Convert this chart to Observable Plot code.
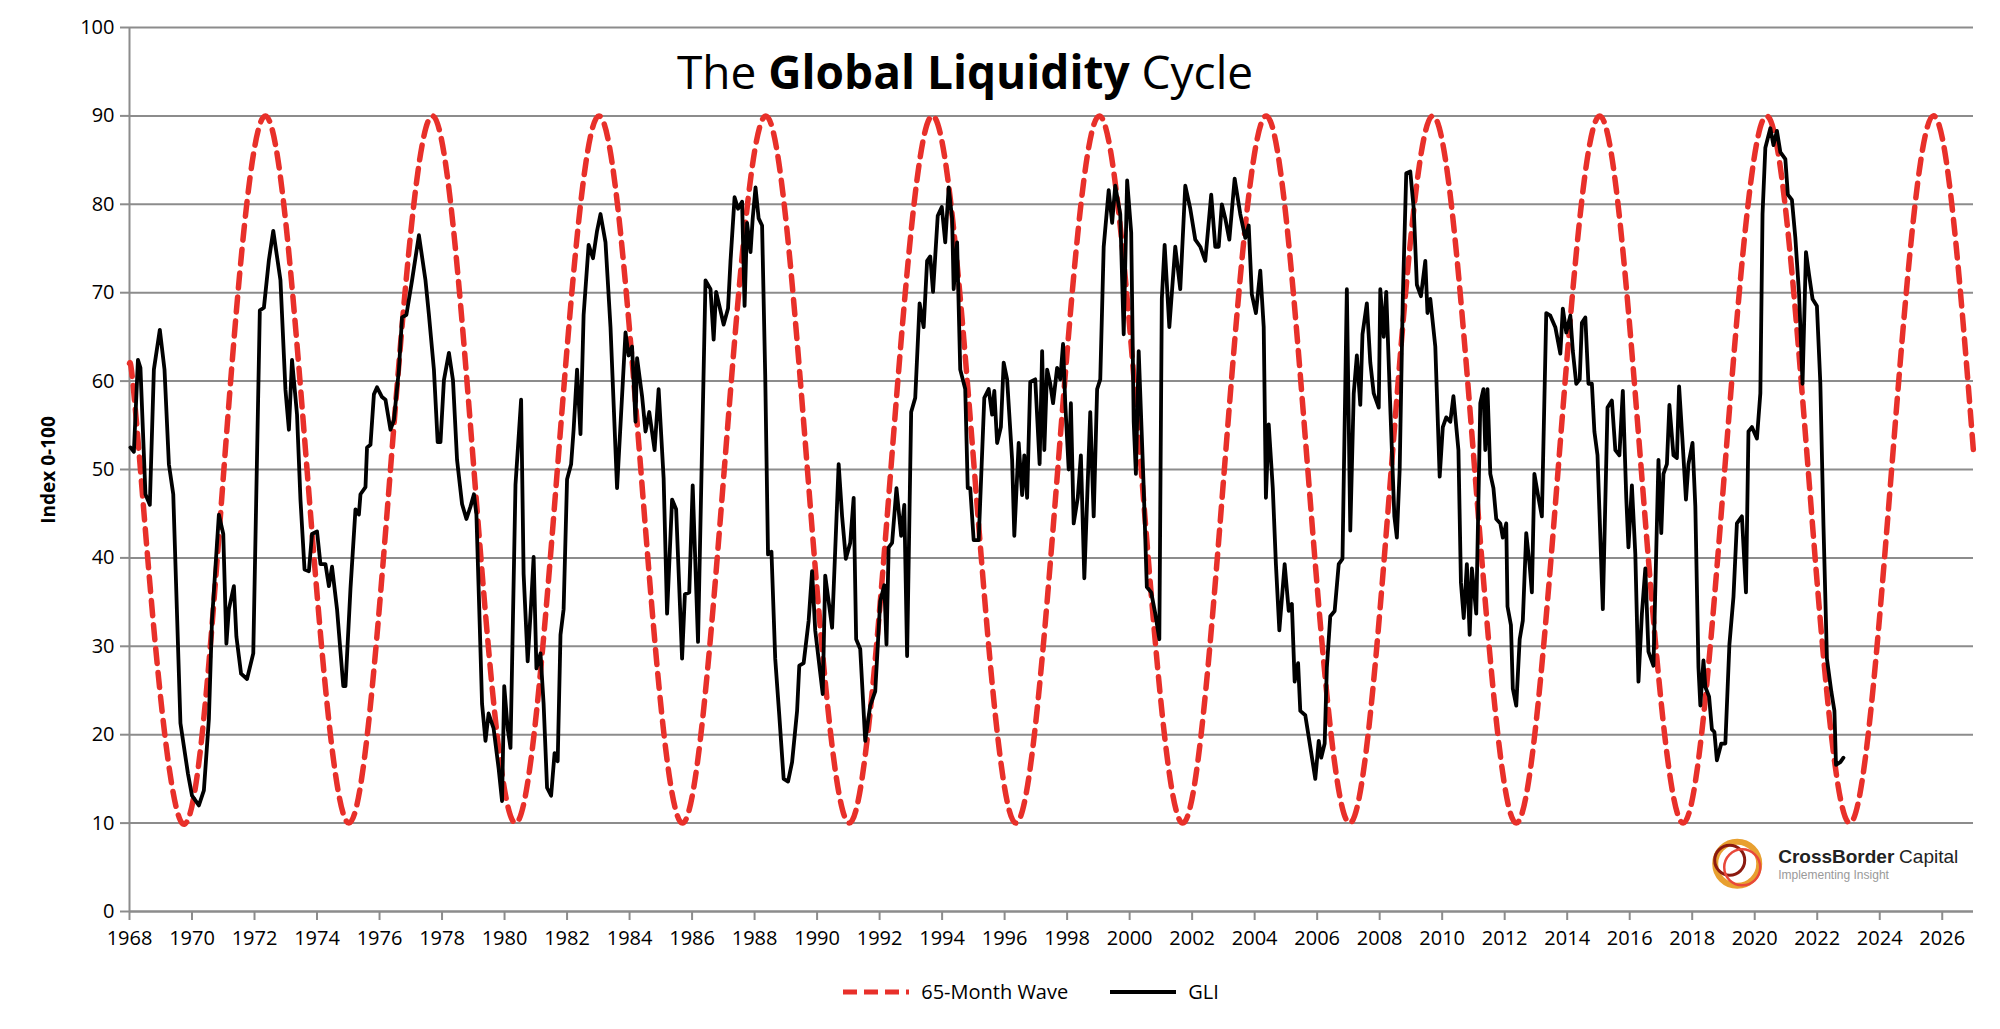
<!DOCTYPE html>
<html><head><meta charset="utf-8">
<script src="https://cdn.jsdelivr.net/npm/d3@7"></script>
<script src="https://cdn.jsdelivr.net/npm/@observablehq/plot@0.6"></script>
<style>
body{margin:0;background:#fff;font-family:"Open Sans",sans-serif;}
#wrap{position:relative;width:2000px;}
#title{position:absolute;left:0;width:1930px;text-align:center;top:40px;font-size:46px;color:#000;}
#ylab{position:absolute;left:48px;top:470px;transform:translate(-50%,-50%) rotate(-90deg);font-size:19px;font-weight:bold;}
#legend{display:flex;justify-content:center;gap:40px;align-items:center;font-size:20px;margin-top:18px;padding-left:60px;}
#legend span{display:flex;align-items:center;gap:10px;}
</style></head><body>
<div id="wrap">
<div id="chart"></div>
<div id="title">The <b>Global Liquidity</b> Cycle</div>
<div id="ylab">Index 0-100</div>
<div id="legend">
<span><svg width="70" height="12"><line x1="2" y1="6" x2="68" y2="6" stroke="#e8302a" stroke-width="5" stroke-dasharray="14,7"/></svg>65-Month Wave</span>
<span><svg width="70" height="12"><line x1="2" y1="6" x2="68" y2="6" stroke="#000" stroke-width="4"/></svg>GLI</span>
</div>
</div>
<script>
const xTicks = d3.range(1968, 2027, 2);
const yTicks = [0,10,20,30,40,50,60,70,80,90,100];

const waveYears = [1968.00,1968.35,1969.68,1971.02,1972.35,1973.68,1975.02,1976.35,1977.69,1979.02,1980.35,1981.69,1983.02,1984.36,1985.69,1987.03,1988.36,1989.69,1991.03,1992.36,1993.69,1995.03,1996.36,1997.70,1999.03,2000.37,2001.70,2003.03,2004.37,2005.70,2007.04,2008.37,2009.70,2011.04,2012.37,2013.71,2015.04,2016.37,2017.71,2019.04,2020.38,2021.71,2023.04,2024.38,2025.71,2027.00];
const waveValues = [62,50,10,50,90,50,10,50,90,50,10,50,90,50,10,50,90,50,10,50,90,50,10,50,90,50,10,50,90,50,10,50,90,50,10,50,90,50,10,50,90,50,10,50,90,52];

const gliYears = [1968.03,1968.14,1968.27,1968.35,1968.51,1968.65,1968.78,1968.97,1969.12,1969.26,1969.40,1969.63,1969.87,1970.00,1970.22,1970.38,1970.54,1970.64,1970.86,1971.00,1971.10,1971.18,1971.34,1971.42,1971.57,1971.76,1971.96,1972.17,1972.30,1972.46,1972.60,1972.83,1972.99,1973.10,1973.20,1973.36,1973.47,1973.60,1973.74,1973.84,1974.00,1974.11,1974.27,1974.38,1974.48,1974.64,1974.84,1974.91,1975.07,1975.23,1975.34,1975.39,1975.55,1975.60,1975.71,1975.82,1975.92,1976.08,1976.19,1976.35,1976.46,1976.62,1976.72,1976.86,1977.04,1977.26,1977.47,1977.58,1977.74,1977.86,1977.95,1978.06,1978.22,1978.35,1978.48,1978.64,1978.78,1978.91,1979.02,1979.10,1979.21,1979.28,1979.39,1979.49,1979.65,1979.81,1979.92,1979.99,1980.10,1980.19,1980.35,1980.53,1980.61,1980.74,1980.85,1980.93,1981.02,1981.15,1981.25,1981.36,1981.49,1981.60,1981.70,1981.79,1981.89,1982.00,1982.13,1982.21,1982.32,1982.43,1982.53,1982.69,1982.83,1982.96,
1983.07,1983.23,1983.39,1983.60,1983.87,1983.97,1984.08,1984.19,1984.24,1984.40,1984.51,1984.63,1984.80,1984.93,1985.09,1985.20,1985.36,1985.49,1985.68,1985.77,1985.91,1986.02,1986.19,1986.43,1986.59,1986.69,1986.77,1987.01,1987.15,1987.23,1987.36,1987.47,1987.60,1987.68,1987.76,1987.87,1987.94,1988.03,1988.13,1988.24,1988.34,1988.43,1988.54,1988.66,1988.79,1988.93,1989.07,1989.20,1989.36,1989.43,1989.57,1989.73,1989.84,1989.94,1990.18,1990.26,1990.48,1990.58,1990.69,1990.80,1990.92,1991.06,1991.17,1991.25,1991.38,
1991.54,1991.70,1991.86,1992.02,1992.15,1992.22,1992.29,1992.40,1992.54,1992.69,1992.79,1992.88,1993.01,1993.14,1993.28,1993.41,1993.52,1993.62,1993.71,1993.86,1993.99,1994.10,1994.21,1994.32,1994.37,1994.48,1994.58,1994.74,1994.82,1994.90,1995.01,1995.17,1995.35,1995.49,1995.60,1995.67,1995.76,1995.88,1995.97,1996.08,1996.24,1996.31,1996.45,1996.56,1996.63,1996.72,1996.82,1996.98,1997.12,1997.20,1997.27,1997.36,1997.46,1997.55,1997.68,1997.78,1997.87,1997.94,1998.05,1998.12,1998.21,1998.34,1998.44,1998.55,1998.74,1998.85,1998.96,1999.06,1999.17,1999.33,1999.44,1999.54,1999.70,1999.81,1999.92,
2000.05,2000.13,2000.20,2000.29,2000.45,2000.55,2000.69,2000.82,2000.95,2001.03,2001.12,2001.27,2001.46,2001.62,2001.78,2001.94,2002.10,2002.26,2002.42,2002.61,2002.74,2002.85,2002.95,2003.06,2003.19,2003.36,2003.54,2003.70,2003.81,2003.91,2004.04,2004.18,2004.29,2004.36,2004.45,2004.58,2004.68,2004.79,2004.96,2005.09,2005.19,2005.28,2005.39,2005.46,2005.62,2005.75,2005.94,2006.05,2006.13,2006.24,2006.31,2006.42,2006.56,2006.69,2006.81,2006.95,2007.06,2007.17,2007.27,2007.38,2007.45,2007.59,2007.70,2007.81,2007.97,2008.02,2008.13,2008.21,2008.34,
2008.47,2008.55,2008.64,2008.74,2008.85,2008.98,2009.09,2009.19,2009.32,2009.46,2009.53,2009.62,2009.78,2009.92,2010.02,2010.13,2010.26,2010.36,2010.52,2010.60,2010.69,2010.79,2010.88,2010.95,2011.09,2011.22,2011.32,2011.38,2011.45,2011.54,2011.64,2011.73,2011.86,2011.94,2012.05,2012.09,2012.20,2012.26,2012.37,2012.48,2012.58,2012.69,2012.80,2012.87,2012.95,2013.08,2013.19,2013.33,2013.46,2013.62,2013.78,2013.86,2013.97,2014.10,2014.18,2014.29,2014.40,2014.47,2014.58,2014.68,2014.79,2014.87,2014.97,2015.14,2015.29,2015.43,2015.54,2015.67,2015.78,2015.89,2015.96,2016.07,2016.18,2016.28,2016.39,2016.50,2016.60,2016.76,
2016.92,2017.01,2017.08,2017.19,2017.27,2017.40,2017.51,2017.58,2017.69,2017.80,2017.88,2018.01,2018.10,2018.20,2018.26,2018.36,2018.42,2018.54,2018.63,2018.71,2018.79,2018.93,2019.06,2019.19,2019.32,2019.43,2019.59,2019.72,2019.80,2019.91,2020.07,2020.18,2020.25,2020.34,2020.50,2020.60,2020.71,2020.82,2020.98,2021.06,2021.19,2021.30,2021.42,2021.53,2021.64,2021.74,2021.85,2021.99,2022.10,2022.20,2022.31,2022.45,2022.55,2022.60,2022.74,2022.84];
const gliValues = [52.5,52,62.4,61.5,47.2,46,61.3,65.8,61.3,50.6,47.2,21.3,15.6,13.1,12,13.7,21.8,33,44.9,42.7,30.3,34.2,36.8,31.1,26.9,26.3,29.2,68,68.3,73.7,77,71.4,59,54.5,62.4,56.2,46.6,38.7,38.5,42.7,43,39.3,39.3,36.8,39,34.2,25.5,25.5,36.5,45.5,44.9,47.2,48,52.5,52.8,58.5,59.3,58.2,57.9,54.5,55.6,61.3,67.2,67.5,71.4,76.5,71.4,67.5,61.3,53.1,53.1,60.1,63.2,60.1,51.1,46.1,44.4,45.8,47.2,44.9,31.9,23.5,19.3,22.4,20.7,16.2,12.5,25.5,20.7,18.5,48.3,57.9,38.2,28.3,34.8,40.1,27.5,29.2,23.5,14,13.1,17.9,17,31.3,34.2,48.9,50.6,54.5,61.3,54,67.5,75.4,73.9,77,
78.9,75.7,66.1,47.9,65.5,62.9,63.9,55.4,62.6,58.3,54.3,56.5,52.2,59.1,49,33.7,46.6,45.5,28.6,35.9,36.1,48.2,30.5,71.4,70.4,64.7,70.1,66.4,68.2,73.6,80.8,79.5,80.3,68.5,77.9,74.6,78.4,81.9,78.4,77.6,60.7,40.4,40.7,28.6,22.2,15,14.7,16.9,22.7,27.8,28.1,32.9,38.5,31.8,24.6,38,32.1,40.9,50.6,44.7,39.9,41.7,46.8,30.8,29.7,
19.3,23.3,24.9,35.1,36.9,30.2,41.2,41.7,47.9,42.5,46,28.9,56.5,58.1,68.8,66.1,73.6,74.1,70.1,78.7,79.7,75.7,81.9,78.4,70.4,75.7,61.3,59.1,47.9,47.9,42,42,58.1,59.1,56.2,58.9,53,54.8,62.1,60.2,51.1,42.5,53,47.1,51.6,46.8,59.9,60.2,50.6,63.4,52.2,61.3,59.7,57.5,61.5,60.2,64.2,57.5,50,57.5,43.9,46.8,51.6,37.7,56.5,44.7,59.1,60.2,75.2,81.6,77.9,82.1,78.9,65.3,82.7,
76.8,55.4,49.5,63.4,47.9,36.7,36.1,33.7,30.8,69.3,75.4,66.1,75.2,70.4,82.1,79.5,76,75.2,73.6,81.1,75.2,75.2,80,78.4,76,82.9,78.9,76.2,77.6,69.8,67.7,72.5,66.1,46.8,55.1,47.9,39.3,31.8,39.3,34,34.8,26,28.1,22.7,22.2,19.3,15,19.3,17.4,19,27.6,33.4,34,39.3,39.9,70.4,43.1,58.6,62.9,57.3,65.3,68.8,62.1,58.6,57,70.4,65,70.1,57,
44.7,42.3,50,69.3,83.5,83.7,79.5,70.9,69.6,73.6,67.7,69.3,63.9,49.2,54.8,55.9,55.4,58.3,52.2,37.2,33.2,39.3,31.3,38.8,33.7,57.5,59.1,52.2,59.1,49.5,47.9,44.4,43.9,42.3,43.9,34.5,32.4,25.2,23.3,30.8,32.9,42.8,39.1,36.1,49.5,46.8,44.7,67.7,67.4,66.1,63.1,68.2,65.5,67.4,63.4,59.7,60.2,66.6,67.2,59.7,59.7,54.3,51.6,34.2,57,57.8,52.2,51.6,58.9,46.8,41.2,48.2,40.4,26,33.7,38.8,29.4,27.8,
51.1,42.8,49.5,50.6,57.3,51.6,51.3,59.4,53.2,46.6,50.6,53,45.8,27.6,23.3,28.4,25.4,24.3,20.6,20.3,17.1,19,19,30.2,35.6,43.9,44.7,36.1,54.3,54.8,53.5,58.6,78.9,86.4,88.6,86.7,88.3,85.9,85.1,81.1,80.5,76.2,69.8,59.7,74.6,72,69.3,68.5,59.7,43.6,28.6,24.9,22.7,16.6,16.9,17.4];

const gli = gliYears.map((x,i)=>({x, y: gliValues[i]}));
const wave = waveYears.map((x,i)=>({x, y: waveValues[i]}));

const chart = Plot.plot({
  width: 2000, height: 960,
  marginLeft: 129, marginRight: 27, marginTop: 27, marginBottom: 49,
  style: {fontFamily: "Open Sans, sans-serif", fontSize: "20px", color: "#000"},
  x: {domain: [1968, 2027], ticks: xTicks, tickFormat: d3.format("d"), label: null, tickSize: 9},
  y: {domain: [0, 100], ticks: yTicks, label: null, tickSize: 9},
  marks: [
    Plot.gridY(yTicks, {stroke: "#8c8c8c", strokeOpacity: 1, strokeWidth: 2}),
    Plot.ruleX([1968], {stroke: "#8c8c8c", strokeWidth: 2}),
    Plot.ruleY([0], {stroke: "#8c8c8c", strokeWidth: 2}),
    Plot.axisX({ticks: xTicks, tickFormat: d3.format("d"), stroke: "#8c8c8c", strokeWidth: 2, tickSize: 9, tickPadding: 10, fontSize: 20, label: null}),
    Plot.axisY({ticks: yTicks, stroke: "#8c8c8c", strokeWidth: 2, tickSize: 9, tickPadding: 6, fontSize: 20, label: null}),
    Plot.line(wave, {x: "x", y: "y", curve: "natural", stroke: "#e8302a", strokeWidth: 5.5, strokeDasharray: "15,9"}),
    Plot.line(gli, {x: "x", y: "y", stroke: "#000", strokeWidth: 3.8, strokeLinejoin: "round"}),
    Plot.dot([{x: 2019.44, y: 5.4}], {x: "x", y: "y", r: 22, stroke: "#e8a030", strokeWidth: 6, fill: "none"}),
    Plot.dot([{x: 2019.2, y: 5.8}], {x: "x", y: "y", r: 15, stroke: "#8b1a10", strokeWidth: 3, fill: "none"}),
    Plot.dot([{x: 2019.6, y: 5.0}], {x: "x", y: "y", r: 18, stroke: "#e8483a", strokeWidth: 2.5, fill: "none"}),
    Plot.text([{x: 2020.75, y: 6.2}], {x: "x", y: "y", text: () => "CrossBorder", textAnchor: "start", fontSize: 19, fontWeight: "bold", fill: "#222", fontFamily: "Liberation Sans, sans-serif"}),
    Plot.text([{x: 2024.62, y: 6.2}], {x: "x", y: "y", text: () => "Capital", textAnchor: "start", fontSize: 19, fill: "#222", fontFamily: "Liberation Sans, sans-serif"}),
    Plot.text([{x: 2020.75, y: 4.1}], {x: "x", y: "y", text: () => "Implementing Insight", textAnchor: "start", fontSize: 12, fill: "#999", fontFamily: "Liberation Sans, sans-serif"})
  ]
});
document.getElementById("chart").appendChild(chart);
</script>
</body></html>
